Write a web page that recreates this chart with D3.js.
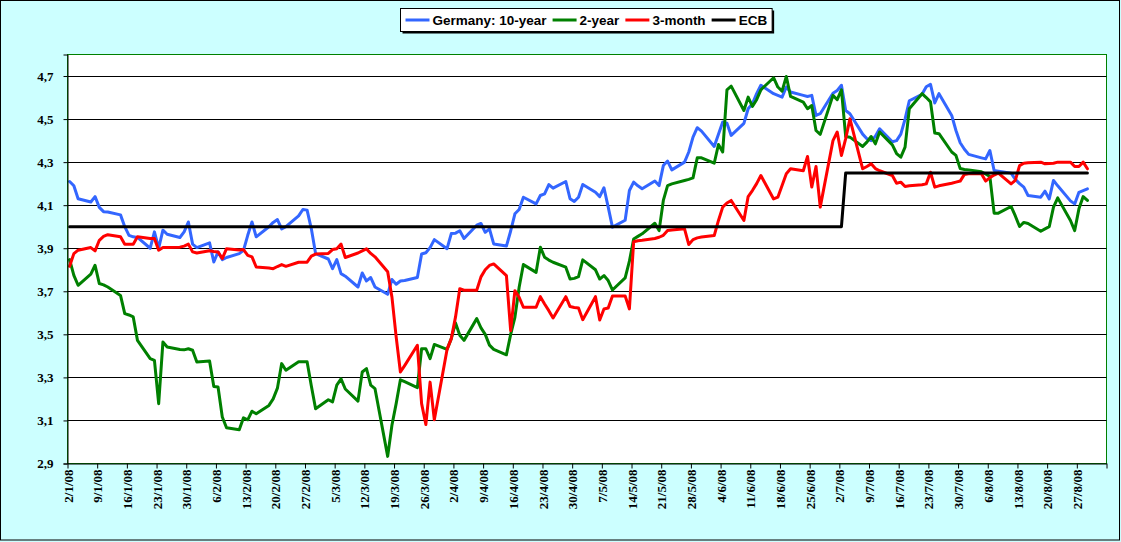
<!DOCTYPE html>
<html>
<head>
<meta charset="utf-8">
<script src="https://cdnjs.cloudflare.com/ajax/libs/d3/7.8.5/d3.min.js"></script>
<style>
    body { margin: 0; background: #ccffff; }
    svg { display: block; }
    .axis text { font-family: "Liberation Serif", "Times New Roman", serif; font-weight: bold; font-size: 13px; fill: #000; }
    .legend text { font-family: "Liberation Sans", Arial, sans-serif; font-weight: bold; font-size: 13.5px; }
</style>
</head>
<body>
<script>
(function(){

    //trading days 2 Jan - 29 Aug 2008, one row per week (Wed, Thu, Fri, Mon, Tue)
    var firstDay = new Date(Date.UTC(2008, 0, 2)),
        lastDay = new Date(Date.UTC(2008, 7, 29)),
        axisEnd = new Date(Date.UTC(2008, 8, 3));

    var bund10y = [
        4.21, 4.19, 4.13, 4.115, 4.14,
        4.09, 4.07, 4.068, 4.055, 4.00,
        3.96, 3.953, 3.95, 3.90, 3.976,
        3.90, 3.984, 3.965, 3.95, 3.976,
        4.022, 3.919, 3.903, 3.925, 3.836,
        3.883, 3.847, 3.857, 3.875, 3.89,
        3.96, 4.022, 3.953, 4.00, 4.02,
        4.033, 3.99, 4.00, 4.05, 4.08,
        4.077, 3.99, 3.875, 3.85, 3.805,
        3.847, 3.782, 3.77, 3.72, 3.785,
        3.748, 3.764, 3.72, 3.686, 3.755,
        3.733, 3.748, 3.75, 3.764, 3.873,
        3.879, 3.903, 3.94, 3.898, 3.968,
        3.97, 3.981, 3.945, 4.007, 4.015,
        3.974, 3.99, 3.92, 3.91, 3.98,
        4.06, 4.08, 4.137, 4.106, 4.145,
        4.153, 4.196, 4.179, 4.21, 4.13,
        4.117, 4.137, 4.196, 4.16, 4.14,
        4.181, 4.091, 3.998, 4.03, 4.168,
        4.207, 4.19, 4.176, 4.212, 4.191,
        4.284, 4.305, 4.264, 4.30, 4.347,
        4.416, 4.46, 4.444, 4.373, 4.43,
        4.486, 4.481, 4.424, 4.48, 4.548,
        4.571, 4.618, 4.657, 4.618, 4.61,
        4.602, 4.649, 4.626, 4.61, 4.605,
        4.61, 4.517, 4.525, 4.62, 4.633,
        4.657, 4.54, 4.525, 4.43, 4.409,
        4.40, 4.42, 4.455, 4.395, 4.40,
        4.43, 4.50, 4.585, 4.615, 4.65,
        4.661, 4.575, 4.618, 4.517, 4.447,
        4.39, 4.36, 4.336, 4.32, 4.315,
        4.354, 4.261, 4.258, 4.249, 4.22,
        4.20, 4.184, 4.145, 4.137, 4.165,
        4.129, 4.215, 4.19, 4.12, 4.106,
        4.16, 4.168, 4.176
    ];

    var schatz2y = [
        3.847, 3.774, 3.728, 3.78, 3.821,
        3.736, 3.73, 3.72, 3.681, 3.596,
        3.59, 3.581, 3.472, 3.387, 3.379,
        3.178, 3.464, 3.441, 3.43, 3.428,
        3.433, 3.426, 3.372, 3.376, 3.258,
        3.255, 3.116, 3.066, 3.057, 3.112,
        3.103, 3.143, 3.131, 3.17, 3.20,
        3.25, 3.364, 3.333, 3.373, 3.373,
        3.373, 3.26, 3.154, 3.196, 3.186,
        3.264, 3.293, 3.246, 3.19, 3.325,
        3.341, 3.264, 3.248, 2.933, 3.078,
        3.178, 3.289, 3.28, 3.252, 3.433,
        3.433, 3.387, 3.453, 3.43, 3.48,
        3.553, 3.496, 3.472, 3.573, 3.53,
        3.50, 3.45, 3.43, 3.405, 3.50,
        3.579, 3.719, 3.824, 3.788, 3.905,
        3.858, 3.845, 3.835, 3.812, 3.757,
        3.76, 3.768, 3.846, 3.80, 3.757,
        3.773, 3.75, 3.706, 3.762, 3.84,
        3.943, 3.955, 3.967, 4.016, 3.982,
        4.122, 4.191, 4.199, 4.215, 4.22,
        4.227, 4.32, 4.32, 4.295, 4.382,
        4.347, 4.636, 4.653, 4.54, 4.602,
        4.559, 4.59, 4.636, 4.692, 4.649,
        4.63, 4.698, 4.605, 4.579, 4.548,
        4.563, 4.447, 4.429, 4.61, 4.59,
        4.636, 4.419, 4.416, 4.373, 4.393,
        4.419, 4.385, 4.44, 4.38, 4.34,
        4.323, 4.37, 4.548, 4.618, 4.60,
        4.58, 4.435, 4.432, 4.347, 4.331,
        4.27, 4.266, 4.264, 4.255, 4.245,
        4.233, 4.063, 4.063, 4.094, 4.05,
        4.001, 4.02, 4.015, 3.979, 3.99,
        4.00, 4.091, 4.134, 4.029, 3.982,
        4.083, 4.14, 4.122
    ];

    var bill3m = [
        3.816, 3.875, 3.891, 3.903, 3.888,
        3.937, 3.955, 3.963, 3.953, 3.919,
        3.919, 3.919, 3.953, 3.945, 3.945,
        3.891, 3.903, 3.903, 3.905, 3.91,
        3.919, 3.883, 3.878, 3.888, 3.885,
        3.883, 3.852, 3.898, 3.892, 3.894,
        3.867, 3.86, 3.813, 3.808, 3.805,
        3.815, 3.824, 3.816, 3.835, 3.835,
        3.835, 3.863, 3.873, 3.876, 3.894,
        3.898, 3.919, 3.857, 3.878, 3.888,
        3.897, 3.876, 3.86, 3.791, 3.674,
        3.488, 3.325, 3.355, 3.449, 3.178,
        3.081, 3.278, 3.103, 3.43, 3.48,
        3.581, 3.712, 3.705, 3.705, 3.767,
        3.80, 3.82, 3.827, 3.773, 3.517,
        3.703, 3.672, 3.626, 3.626, 3.675,
        3.641, 3.61, 3.576, 3.675, 3.629,
        3.625, 3.622, 3.568, 3.675, 3.567,
        3.618, 3.622, 3.678, 3.678, 3.618,
        3.93, 3.935, 3.937, 3.945, 3.951,
        3.96, 3.982, 3.985, 3.99, 3.917,
        3.94, 3.948, 3.952, 3.959, 4.029,
        4.091, 4.11, 4.122, 4.029, 4.14,
        4.168, 4.20, 4.238, 4.129, 4.137,
        4.191, 4.246, 4.269, 4.26, 4.326,
        4.184, 4.28, 4.091, 4.40, 4.44,
        4.331, 4.409, 4.501, 4.269, 4.28,
        4.292, 4.27, 4.26, 4.238, 4.202,
        4.207, 4.187, 4.19, 4.195, 4.199,
        4.253, 4.184, 4.19, 4.202, 4.207,
        4.212, 4.243, 4.246, 4.246, 4.212,
        4.228, 4.24, 4.249, 4.199, 4.215,
        4.284, 4.295, 4.297, 4.30, 4.292,
        4.294, 4.295, 4.30, 4.30, 4.28,
        4.28, 4.30, 4.269
    ];

    var ecbRate = [
        4.00, 4.00, 4.00, 4.00, 4.00,
        4.00, 4.00, 4.00, 4.00, 4.00,
        4.00, 4.00, 4.00, 4.00, 4.00,
        4.00, 4.00, 4.00, 4.00, 4.00,
        4.00, 4.00, 4.00, 4.00, 4.00,
        4.00, 4.00, 4.00, 4.00, 4.00,
        4.00, 4.00, 4.00, 4.00, 4.00,
        4.00, 4.00, 4.00, 4.00, 4.00,
        4.00, 4.00, 4.00, 4.00, 4.00,
        4.00, 4.00, 4.00, 4.00, 4.00,
        4.00, 4.00, 4.00, 4.00, 4.00,
        4.00, 4.00, 4.00, 4.00, 4.00,
        4.00, 4.00, 4.00, 4.00, 4.00,
        4.00, 4.00, 4.00, 4.00, 4.00,
        4.00, 4.00, 4.00, 4.00, 4.00,
        4.00, 4.00, 4.00, 4.00, 4.00,
        4.00, 4.00, 4.00, 4.00, 4.00,
        4.00, 4.00, 4.00, 4.00, 4.00,
        4.00, 4.00, 4.00, 4.00, 4.00,
        4.00, 4.00, 4.00, 4.00, 4.00,
        4.00, 4.00, 4.00, 4.00, 4.00,
        4.00, 4.00, 4.00, 4.00, 4.00,
        4.00, 4.00, 4.00, 4.00, 4.00,
        4.00, 4.00, 4.00, 4.00, 4.00,
        4.00, 4.00, 4.00, 4.00, 4.00,
        4.00, 4.00, 4.00, 4.00, 4.00,
        4.00, 4.25, 4.25, 4.25, 4.25,
        4.25, 4.25, 4.25, 4.25, 4.25,
        4.25, 4.25, 4.25, 4.25, 4.25,
        4.25, 4.25, 4.25, 4.25, 4.25,
        4.25, 4.25, 4.25, 4.25, 4.25,
        4.25, 4.25, 4.25, 4.25, 4.25,
        4.25, 4.25, 4.25, 4.25, 4.25,
        4.25, 4.25, 4.25, 4.25, 4.25,
        4.25, 4.25, 4.25
    ];

    var yTicks = [2.9, 3.1, 3.3, 3.5, 3.7, 3.9, 4.1, 4.3, 4.5, 4.7];
    var seriesNames = ["Germany: 10-year", "2-year", "3-month", "ECB"];
    var seriesColors = ["#3366ff", "#008000", "#ff0000", "#000000"];

    window.onload = drawChart();

function drawChart(){
    var width = 1121, height = 542;
    var plot = {left: 67.5, right: 1106.5, top: 54.5, bottom: 463.5};

    var svg = d3.select("body")
        .append("svg")
        .attr("width", width)
        .attr("height", height);

    //chart area
    svg.append("rect")
        .attr("x", 0.5).attr("y", 0.5)
        .attr("width", width - 2).attr("height", height - 2.5)
        .attr("fill", "#ccffff")
        .attr("stroke", "#000");

    //weekdays only
    var days = d3.utcDay.range(firstDay, d3.utcDay.offset(lastDay, 1))
        .filter(function(d){ return d.getUTCDay() > 0 && d.getUTCDay() < 6; });

    var series = [bund10y, schatz2y, bill3m, ecbRate];

    var x = d3.scaleUtc()
        .domain([firstDay, axisEnd])
        .range([plot.left, plot.right]);

    var y = d3.scaleLinear()
        .domain([2.9, 4.8])
        .range([plot.bottom, plot.top]);

    //plot area
    svg.append("rect")
        .attr("x", plot.left).attr("y", plot.top)
        .attr("width", plot.right - plot.left)
        .attr("height", plot.bottom - plot.top)
        .attr("fill", "#fff")
        .attr("stroke", "#008000");

    //gridlines
    svg.append("g")
        .selectAll("line")
        .data(yTicks.slice(1))
        .enter()
        .append("line")
        .attr("x1", plot.left).attr("x2", plot.right)
        .attr("y1", function(d){ return Math.round(y(d)) + 0.5; })
        .attr("y2", function(d){ return Math.round(y(d)) + 0.5; })
        .attr("stroke", "#000");

    //series lines, each point in the middle of its day
    var line = d3.line()
        .x(function(d, i){ return x(d3.utcHour.offset(days[i], 12)); })
        .y(function(d){ return y(d); });

    svg.append("g")
        .selectAll("path")
        .data(series)
        .enter()
        .append("path")
        .attr("d", line)
        .attr("fill", "none")
        .attr("stroke", function(d, i){ return seriesColors[i]; })
        .attr("stroke-width", 3)
        .attr("stroke-linejoin", "round")
        .attr("stroke-linecap", "round");

    //y axis
    var yAxis = svg.append("g")
        .attr("class", "axis")
        .attr("transform", "translate(" + plot.left + ",0)")
        .call(d3.axisLeft(y)
            .tickValues(yTicks)
            .tickSize(4)
            .tickPadding(10)
            .tickFormat(function(d){ return d3.format(".1f")(d).replace(".", ","); }));
    yAxis.select(".domain").attr("stroke", "#000");
    yAxis.selectAll("text").attr("font-family", null).attr("font-size", null);

    //x axis, weekly ticks
    var weeks = d3.utcWednesday.range(firstDay, d3.utcDay.offset(axisEnd, 1));
    var fmt = d3.utcFormat("%-d/%-m/%y");
    var xAxis = svg.append("g")
        .attr("class", "axis")
        .attr("transform", "translate(0," + plot.bottom + ")")
        .call(d3.axisBottom(x)
            .tickValues(weeks)
            .tickSize(5)
            .tickSizeOuter(0)
            .tickFormat(function(d){ return d < axisEnd ? fmt(d) : ""; }));
    xAxis.selectAll("text")
        .attr("font-family", null).attr("font-size", null)
        .attr("transform", "rotate(-90)")
        .attr("x", -6)
        .attr("y", 0)
        .attr("dy", "0.35em")
        .style("text-anchor", "end");

    setLegend(svg);
};

function setLegend(svg){
    var legend = svg.append("g").attr("class", "legend");
    var box = {x: 400.5, y: 8.5, h: 23};

    var shadow = legend.append("rect").attr("fill", "#000");
    var frame = legend.append("rect").attr("fill", "#fff").attr("stroke", "#000");

    var cx = box.x + 5;
    seriesNames.forEach(function(name, i){
        legend.append("line")
            .attr("x1", cx).attr("x2", cx + 24)
            .attr("y1", 20).attr("y2", 20)
            .attr("stroke", seriesColors[i])
            .attr("stroke-width", 3);
        var t = legend.append("text")
            .attr("x", cx + 27)
            .attr("y", 24.8)
            .text(name);
        cx += 27 + t.node().getComputedTextLength() + 6;
    });

    var w = cx - box.x - 1;
    shadow.attr("x", box.x + 2).attr("y", box.y + 2).attr("width", w).attr("height", box.h);
    frame.attr("x", box.x).attr("y", box.y).attr("width", w).attr("height", box.h);
};

})();
</script>
</body>
</html>
